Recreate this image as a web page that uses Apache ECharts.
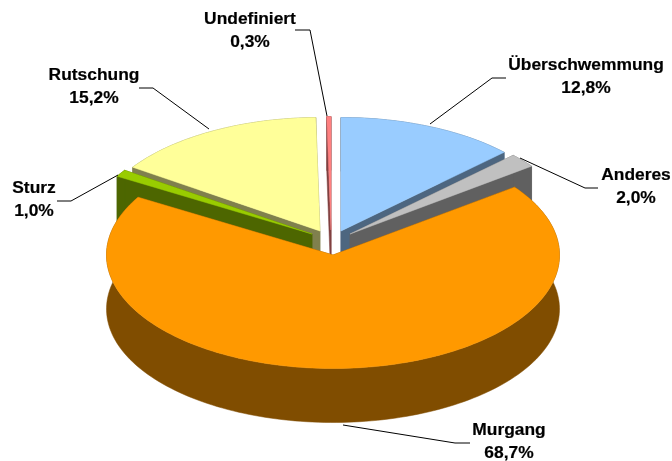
<!DOCTYPE html>
<html><head><meta charset="utf-8">
<style>html,body{margin:0;padding:0;background:#fff}#c{width:672px;height:461px}</style>
<script src="https://cdn.jsdelivr.net/npm/echarts@6/dist/echarts.min.js"></script>
</head><body><div id="c"></div>
<script>
// --- data (clockwise from 12 o'clock) ---
const categories = ['Überschwemmung','Anderes','Murgang','Sturz','Rutschung','Undefiniert'];
const percents   = [12.8, 2.0, 68.7, 1.0, 15.2, 0.3];
const percentLabels = ['12,8%','2,0%','68,7%','1,0%','15,2%','0,3%'];

// --- style / layout ---
const topColors  = ['#99CCFF','#C0C0C0','#FF9900','#99CC00','#FFFF99','#FF8080'];
const sideColors = ['#4D6680','#606060','#804D00','#4D6600','#80804D','#804040'];
const paintRank  = [2,3,5,4,0,1];
const RX = 226.5, RY = 113.5, DEPTH = 54;
const sliceCenters = [[341,231],[350,234],[333,255],[312,234],[320,231],[331,230]];
const labelCenters = [[586,65],[636,175.5],[509,430.5],[34,188.5],[94,75.5],[250,19]];
const LINE_GAP = 23;
const leaders = [
  [[506,78],[492,78],[430,124]],
  [[598,188],[585,188],[520,158]],
  [[470,443],[455,443],[343,425]],
  [[57,201],[71,201],[118,175]],
  [[139,88],[153,88],[209,129]],
  [[295,30],[310,30],[327,116]]
];

const total = percents.reduce((a,b)=>a+b,0);
const starts = []; percents.reduce((acc,v,i)=>{starts[i]=acc;return acc+v;},0);

function pt(c, deg, drop){
  const r = deg*Math.PI/180;
  return [c[0]+RX*Math.sin(r), c[1]-RY*Math.cos(r)+(drop||0)];
}
function arc(c, a0, a1, drop){
  const n = Math.max(2, Math.ceil(Math.abs(a1-a0)/1.5));
  const out = [];
  for(let i=0;i<=n;i++) out.push(pt(c, a0+(a1-a0)*i/n, drop));
  return out;
}
function renderItem(params, api){
  const i = params.dataIndex;
  const v = api.value(0);
  const a0 = starts[i]/total*360, a1 = a0+v/total*360;
  const c = sliceCenters[i];
  const base = paintRank[i]*10;
  const poly = (points, fill, z)=>({type:'polygon', z2:base+z, shape:{points}, style:{fill, stroke:fill, lineWidth:0.5}});
  const low = [c[0],c[1]+DEPTH];
  const kids = [
    poly([c,pt(c,a0),pt(c,a0,DEPTH),low], sideColors[i], 0),
    poly([c,pt(c,a1),pt(c,a1,DEPTH),low], sideColors[i], 1),
    poly(arc(c,a0,a1,0).concat(arc(c,a1,a0,DEPTH)), sideColors[i], 2),
    poly([c].concat(arc(c,a0,a1,0)), topColors[i], 3)
  ];
  return {type:'group', children:kids};
}
function renderLabel(params, api){
  const i = params.dataIndex;
  const l = labelCenters[i];
  const txt = (t,y)=>({type:'text', z2:100, style:{text:t, x:l[0], y, align:'center', verticalAlign:'middle',
    font:'bold 17.4px "Liberation Sans", Arial, sans-serif', fill:'#000', stroke:'#000', lineWidth:0.2}});
  return {type:'group', children:[
    {type:'polyline', z2:99, shape:{points:leaders[i]}, style:{stroke:'#000', lineWidth:1, fill:null}},
    txt(categories[i], l[1]),
    txt(percentLabels[i], l[1]+LINE_GAP)
  ]};
}
const chart = echarts.init(document.getElementById('c'), null, {renderer:'canvas'});
chart.setOption({
  animation:false,
  backgroundColor:'#fff',
  series:[
    {type:'custom', coordinateSystem:'none', renderItem, data:percents.map(v=>[v]), silent:true, z:1},
    {type:'custom', coordinateSystem:'none', renderItem:renderLabel, data:percents.map(v=>[v]), silent:true, z:2}
  ]
});
</script></body></html>
